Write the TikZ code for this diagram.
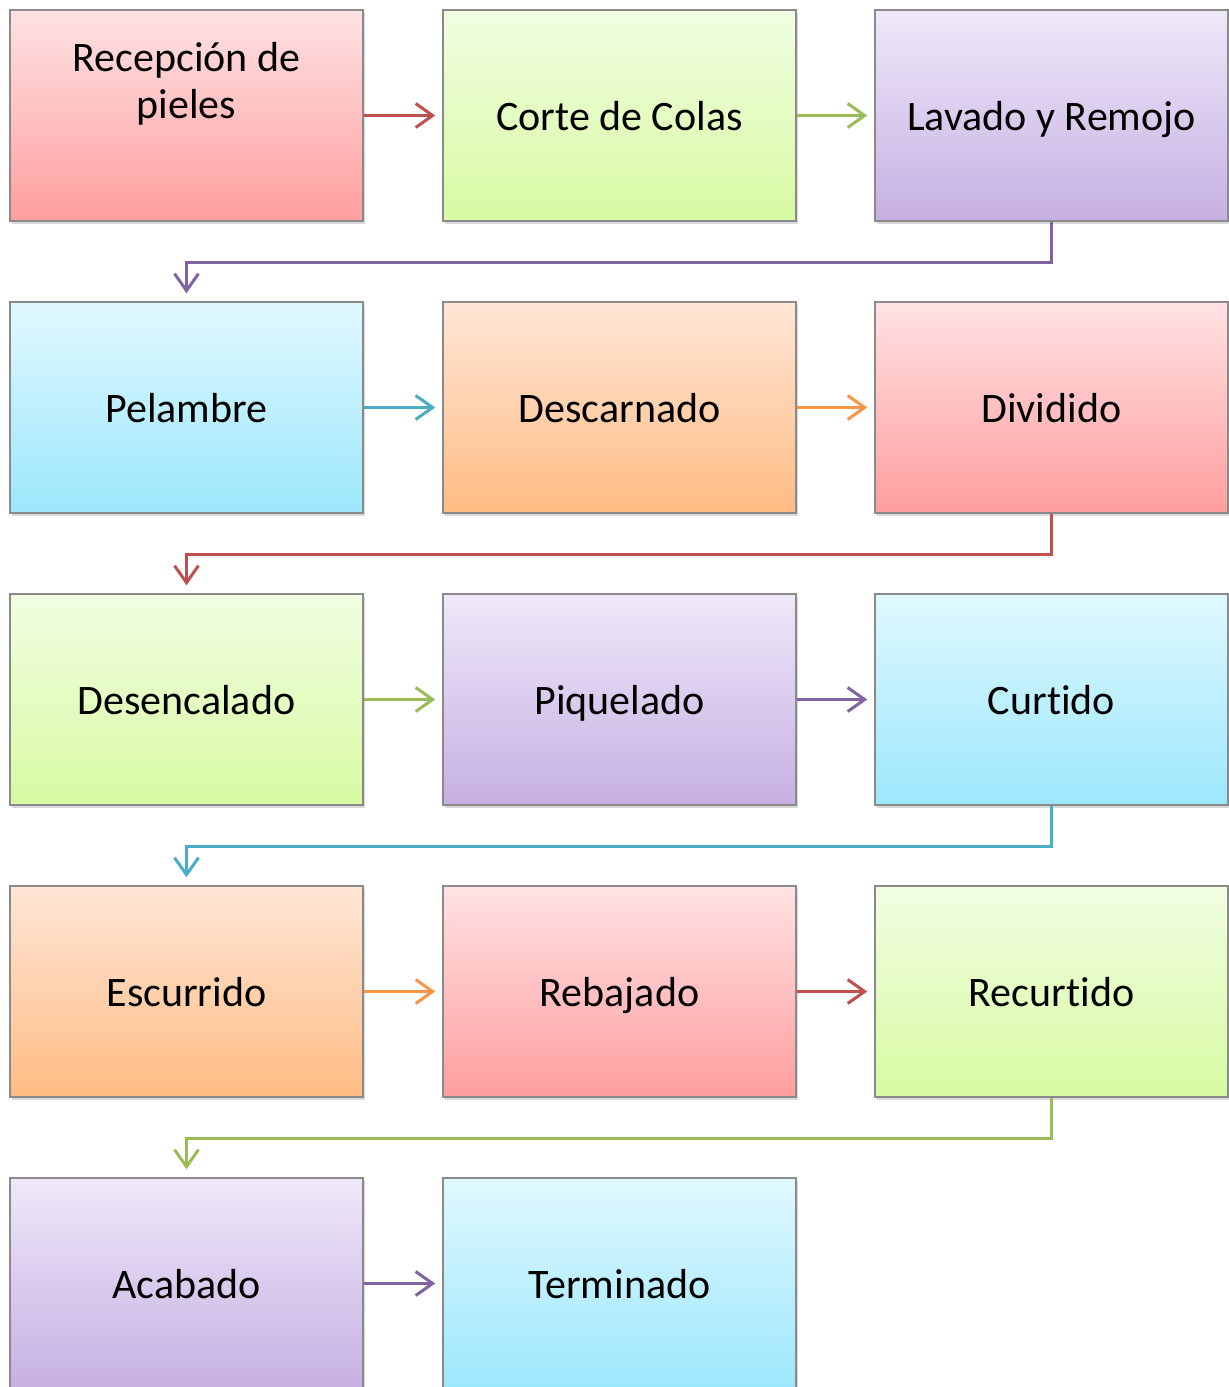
\documentclass[tikz,border=0pt]{standalone}
\usepackage{fontspec}
\setmainfont{Carlito}[Ligatures={NoCommon}]
\usetikzlibrary{arrows.meta,shadows}

\definecolor{boxborder}{HTML}{8A8A8A}
\definecolor{redtop}{HTML}{FFE2E4}
\definecolor{redbot}{HTML}{FF9E9E}
\definecolor{greentop}{HTML}{F1FDE2}
\definecolor{greenbot}{HTML}{D8FAA2}
\definecolor{purpletop}{HTML}{EEE8F8}
\definecolor{purplebot}{HTML}{C6B0E3}
\definecolor{bluetop}{HTML}{E0F8FF}
\definecolor{bluebot}{HTML}{9CE7FC}
\definecolor{orangetop}{HTML}{FFE6D6}
\definecolor{orangebot}{HTML}{FFBC84}
\definecolor{redline}{HTML}{C0504D}
\definecolor{greenline}{HTML}{9BBB59}
\definecolor{purpleline}{HTML}{8064A2}
\definecolor{blueline}{HTML}{4BACC6}
\definecolor{orangeline}{HTML}{F79646}

\tikzset{
	steptext/.style={font=\fontsize{42}{47}\selectfont, align=center, inner sep=0pt},
	stepbox/.style={steptext, text height=32pt, text depth=3pt, draw=boxborder, line width=1.5pt,
		minimum width=353pt, minimum height=211pt,
		drop shadow={opacity=0.3, shadow xshift=2pt, shadow yshift=-3pt}},
	redbox/.style={stepbox, top color=redtop, bottom color=redbot},
	greenbox/.style={stepbox, top color=greentop, bottom color=greenbot},
	purplebox/.style={stepbox, top color=purpletop, bottom color=purplebot},
	bluebox/.style={stepbox, top color=bluetop, bottom color=bluebot},
	orangebox/.style={stepbox, top color=orangetop, bottom color=orangebot},
	flow/.style={line width=3pt, -{Straight Barb[length=17pt, width=24pt]}},
}

\begin{document}
\begin{tikzpicture}[x=1pt, y=-1pt]
		\path[use as bounding box, clip] (0, 0) rectangle (1229, 1387);
		
		\node[redbox] (rec) at (186.5, 115.5) {};
		\node[steptext] (rec label) at (186.5, 84) {Recepción de\\pieles};
		\node[greenbox] (corte) at (619.5, 115.5) {Corte de Colas};
		\node[purplebox] (lavado) at (1051.5, 115.5) {Lavado y Remojo};
		
		\node[bluebox] (pelambre) at (186.5, 407.5) {Pelambre};
		\node[orangebox] (descarnado) at (619.5, 407.5) {Descarnado};
		\node[redbox] (dividido) at (1051.5, 407.5) {Dividido};
		
		\node[greenbox] (desencalado) at (186.5, 699.5) {Desencalado};
		\node[purplebox] (piquelado) at (619.5, 699.5) {Piquelado};
		\node[bluebox] (curtido) at (1051.5, 699.5) {Curtido};
		
		\node[orangebox] (escurrido) at (186.5, 991.5) {Escurrido};
		\node[redbox] (rebajado) at (619.5, 991.5) {Rebajado};
		\node[greenbox] (recurtido) at (1051.5, 991.5) {Recurtido};
		
		\node[purplebox] (acabado) at (186.5, 1283.5) {Acabado};
		\node[bluebox] (terminado) at (619.5, 1283.5) {Terminado};
		
		\draw[flow, redline] (rec.east) -- ([xshift=-7pt]corte.west);
		\draw[flow, greenline] (corte.east) -- ([xshift=-7pt]lavado.west);
		\draw[flow, purpleline] (lavado.south) -- ++(0, 41) -| ([yshift=8pt]pelambre.north);
		
		\draw[flow, blueline] (pelambre.east) -- ([xshift=-7pt]descarnado.west);
		\draw[flow, orangeline] (descarnado.east) -- ([xshift=-7pt]dividido.west);
		\draw[flow, redline] (dividido.south) -- ++(0, 41) -| ([yshift=8pt]desencalado.north);
		
		\draw[flow, greenline] (desencalado.east) -- ([xshift=-7pt]piquelado.west);
		\draw[flow, purpleline] (piquelado.east) -- ([xshift=-7pt]curtido.west);
		\draw[flow, blueline] (curtido.south) -- ++(0, 41) -| ([yshift=8pt]escurrido.north);
		
		\draw[flow, orangeline] (escurrido.east) -- ([xshift=-7pt]rebajado.west);
		\draw[flow, redline] (rebajado.east) -- ([xshift=-7pt]recurtido.west);
		\draw[flow, greenline] (recurtido.south) -- ++(0, 41) -| ([yshift=8pt]acabado.north);
		
		\draw[flow, purpleline] (acabado.east) -- ([xshift=-7pt]terminado.west);
	\end{tikzpicture}
\end{document}
